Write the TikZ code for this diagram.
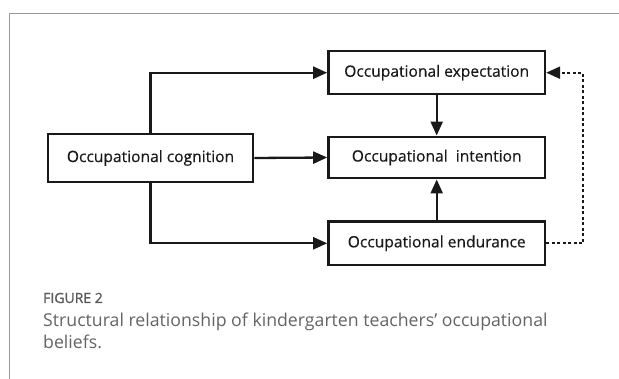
\documentclass[tikz,border=0pt]{standalone}
\usepackage{fontspec}
\setmainfont{Open Sans}
\newfontfamily\figlabelfont[FakeBold=1.2]{Open Sans}
\newfontfamily\boxfont[FakeBold=0.4]{Open Sans}
\usetikzlibrary{arrows.meta}
\definecolor{framegray}{HTML}{9A9A9A}
\definecolor{capgray}{HTML}{5A5A5A}
\definecolor{captxtgray}{HTML}{646464}
\begin{document}
\begin{tikzpicture}[x=1pt,y=-1pt,
  box/.style={draw=black!90,line width=2.3pt,inner sep=0pt,text=black!90,
    font=\boxfont\fontsize{15.6}{18}\selectfont,minimum width=216.7pt,minimum height=43pt},
  conn/.style={line width=2.3pt,black!90,-{Triangle[length=14pt,width=12pt]}},
  dotconn/.style={line width=2.3pt,black!90,dash pattern=on 3pt off 2.5pt,-{Triangle[length=14pt,width=12pt]}},
  captxt/.style={anchor=base west,inner sep=0pt,text=captxtgray}]
\useasboundingbox (0,0) rectangle (619,379);
\draw[framegray,line width=1pt] (9,379) -- (9,14) -- (619,14);
\node[box,minimum width=205.6pt,minimum height=47.4pt] (cog) at (150.5,158) {Occupational cognition};
\node[box] (exp) at (436.7,72.7) {Occupational expectation};
\node[box,minimum height=41.6pt] (int) at (436.7,157.5) {Occupational\ \ intention};
\node[box,minimum height=43.3pt] (end) at (436.7,243.3) {Occupational endurance};
\draw[conn] (cog.north) |- (exp.west);
\draw[conn] (cog.east) -- (int.west);
\draw[conn] (cog.south) |- (end.west);
\draw[conn] (exp.south) -- (int.north);
\draw[conn] (end.north) -- (int.south);
\coordinate (turn) at (583,243.3);
\draw[dotconn] (end.east) -- (turn) |- (exp.east);
\node[captxt,text=capgray,font=\figlabelfont\fontsize{14}{16}\selectfont] (fig) at (43,303) {FIGURE 2};
\node[captxt,font=\fontsize{17.7}{21}\selectfont] (cap1) at (43,327) {Structural relationship of kindergarten teachers’ occupational};
\node[captxt,font=\fontsize{17.7}{21}\selectfont] (cap2) at (43,348.5) {beliefs.};
\end{tikzpicture}
\end{document}
